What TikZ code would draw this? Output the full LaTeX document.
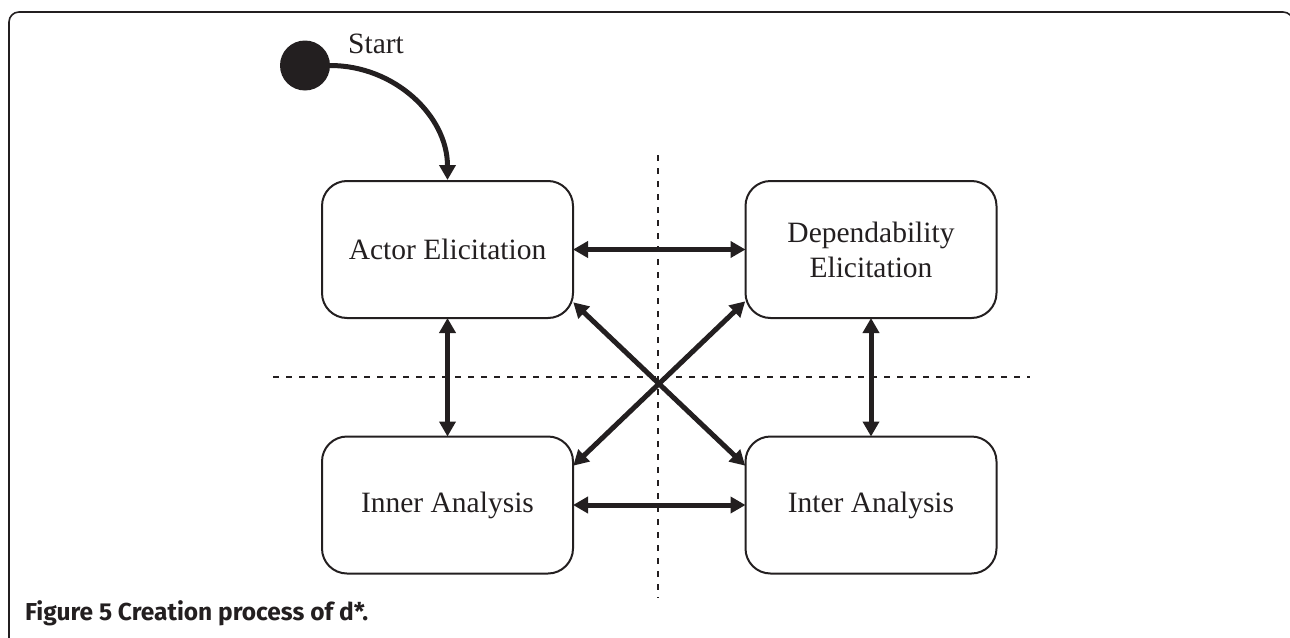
\documentclass[tikz,border=0pt]{standalone}
\usepackage{fontspec}
\setmainfont{Liberation Serif}
\newfontfamily\capfont{Fira Sans}
\usetikzlibrary{arrows.meta,calc}
\definecolor{ink}{HTML}{231F20}
\begin{document}
\begin{tikzpicture}[x=1pt,y=-1pt,
  stage/.style={draw=ink,line width=2pt,rounded corners=25pt,minimum width=251pt,minimum height=137pt,align=center,font=\fontsize{29.5}{35}\selectfont,text=ink,inner sep=0pt},
  flow/.style={draw=ink,line width=5pt,-{Triangle[length=15pt,width=16pt]}},
  both/.style={draw=ink,line width=5pt,{Triangle[length=15pt,width=16pt]}-{Triangle[length=15pt,width=16pt]},shorten <=-1pt,shorten >=-1pt},
  divider/.style={draw=ink,line width=1.8pt,dash pattern=on 6pt off 7pt}]
\useasboundingbox (0,0) rectangle (1290,637);
\begin{scope}
\clip (0,0) rectangle (1290,637);
\draw[ink,line width=1.6pt,rounded corners=10pt] (9,660) -- (9,12) -- (1293,12) -- (1293,660);
\end{scope}
% dividers
\coordinate (vtop) at (658,155);
\coordinate (vbot) at (658,598);
\coordinate (hl) at (273,377);
\coordinate (hr) at (1030,377);
\draw[divider] (vtop) -- (vbot);
\draw[divider] (hl) -- (hr);
% nodes
\node[circle,fill=ink,minimum size=50pt,inner sep=0pt] (start) at (305,65.5) {};
\node[anchor=base west,font=\fontsize{29.5}{35}\selectfont,text=ink,inner sep=0pt] (startlbl) at (348,53) {Start};
\node[stage] (actor) at (447.5,249.5) {Actor Elicitation};
\node[stage] (dep) at (871,249.5) {Dependability\\Elicitation};
\node[stage] (inner) at (447.5,505) {Inner Analysis};
\node[stage] (inter) at (871,505) {Inter Analysis};
% connectors
\draw[flow] (start.east) to[out=0,in=90] (actor.north);
\draw[both] (actor.east) -- (dep.west);
\draw[both] (inner.east) -- (inter.west);
\draw[both] (actor.south) -- (inner.north);
\draw[both] (dep.south) -- (inter.north);
\draw[both] ($(actor.east)+(0,53.5)$) -- ($(inter.west)+(0,-40)$);
\draw[both] ($(dep.west)+(0,52.5)$) -- ($(inner.east)+(0,-40)$);
% caption
\node[anchor=base west,font=\capfont\fontsize{24.5}{29}\selectfont\bfseries,text=ink,inner sep=0pt] (cap) at (25,620) {Figure 5 Creation process of d*.};
\end{tikzpicture}
\end{document}
